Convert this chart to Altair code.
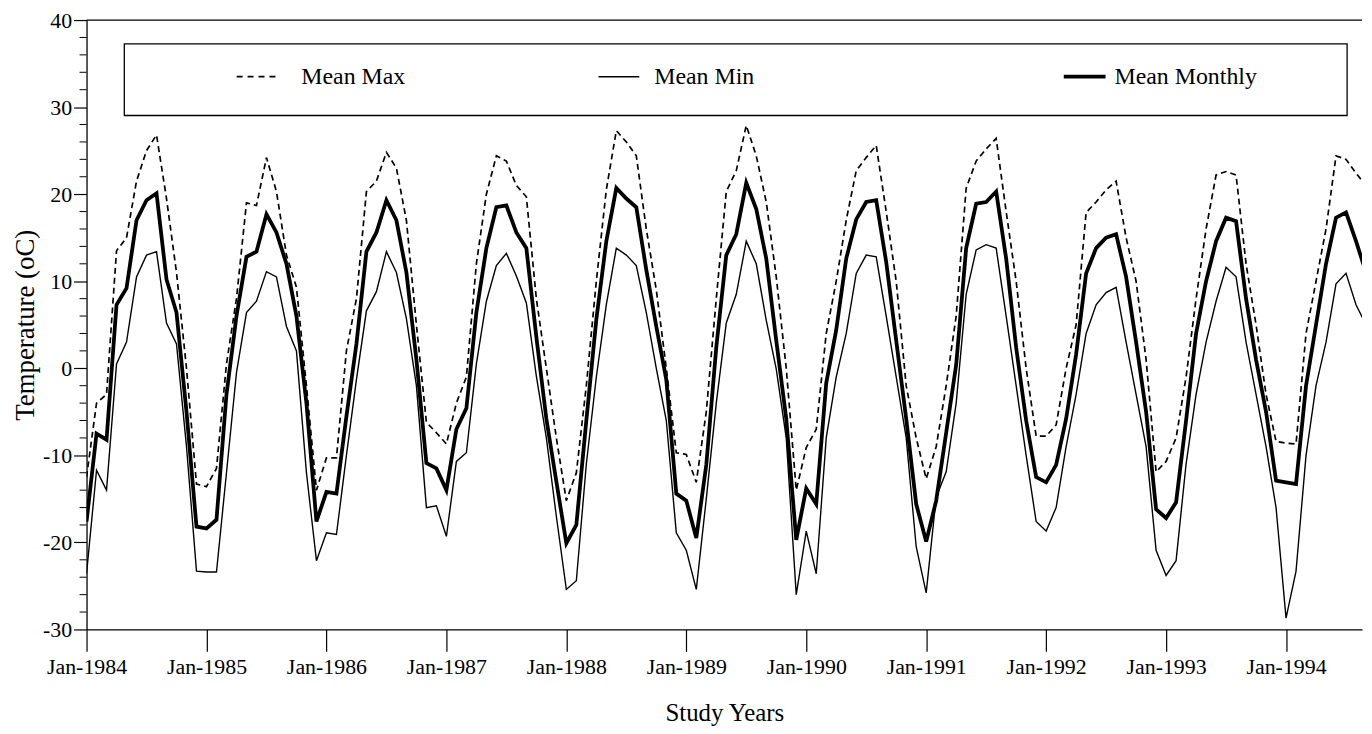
import altair as alt
import pandas as pd

# Monthly values, Jan-1984 .. Sep-1994 (index 0 = Jan-1984)
mean_max = [
    -12.5, -4.0, -3.0, 13.5, 15.0, 21.5, 25.0, 26.8, 19.5, 11.0, 0.0, -13.3,
    -13.6, -11.5, 0.5, 8.0, 19.0, 18.7, 24.2, 20.3, 13.0, 9.3, -2.0, -14.0,
    -10.3, -10.3, 2.0, 8.0, 20.3, 21.5, 24.8, 23.0, 17.0, 5.0, -6.2, -7.4,
    -8.7, -4.0, -1.0, 12.0, 20.0, 24.4, 23.8, 21.0, 19.7, 8.0, 0.0, -8.0,
    -15.2, -12.0, -2.0, 10.0, 20.5, 27.3, 26.0, 24.4, 16.0, 9.0, 0.0, -9.7,
    -9.9, -13.1, -5.0, 8.0, 20.3, 22.7, 27.9, 24.4, 19.1, 10.5, 0.0, -14.0,
    -9.1, -7.0, 4.0, 10.0, 17.0, 22.7, 24.2, 25.6, 18.0, 10.0, -2.0, -8.0,
    -12.7, -9.0, -2.0, 6.0, 20.7, 23.8, 25.2, 26.4, 18.0, 10.0, 0.0, -7.8,
    -7.8, -6.5, 0.0, 5.0, 17.9, 19.1, 20.5, 21.5, 15.0, 10.0, 1.0, -11.9,
    -10.7, -8.0, -1.0, 8.0, 16.0, 22.2, 22.6, 22.2, 12.0, 5.0, -3.0, -8.4,
    -8.6, -8.7, 4.0, 10.0, 16.0, 24.4, 24.0, 22.4, 21.0,
]
mean_min = [
    -23.6, -11.7, -14.0, 0.5, 3.0, 10.5, 13.0, 13.4, 5.2, 2.8, -9.0, -23.3,
    -23.4, -23.4, -12.0, -0.5, 6.4, 7.7, 11.1, 10.5, 4.8, 2.0, -12.0, -22.1,
    -18.9, -19.1, -10.0, -1.3, 6.6, 8.8, 13.4, 11.0, 5.7, -2.0, -16.0, -15.8,
    -19.3, -10.7, -9.7, 0.5, 7.7, 11.8, 13.2, 10.6, 7.5, -0.9, -8.0, -17.0,
    -25.4, -24.4, -11.0, -1.0, 7.3, 13.8, 13.0, 11.8, 6.4, 0.0, -6.0, -18.9,
    -20.9, -25.4, -15.0, -4.0, 5.2, 8.5, 14.6, 12.0, 5.5, -0.1, -8.0, -26.0,
    -18.7, -23.6, -8.0, -1.0, 4.0, 10.9, 13.0, 12.8, 6.0, -1.0, -8.0, -20.5,
    -25.8, -14.8, -11.9, -4.0, 8.5, 13.6, 14.2, 13.8, 6.0, -2.0, -10.0, -17.6,
    -18.7, -16.0, -9.0, -3.0, 4.0, 7.3, 8.7, 9.3, 3.0, -3.0, -9.0, -20.9,
    -23.8, -22.1, -11.0, -3.0, 3.0, 7.7, 11.6, 10.5, 3.0, -3.0, -9.0, -16.0,
    -28.7, -23.3, -10.0, -2.0, 3.0, 9.7, 10.9, 7.3, 5.0,
]
mean_monthly = [
    -17.6, -7.5, -8.2, 7.3, 9.2, 17.0, 19.3, 20.1, 10.2, 6.4, -5.0, -18.2,
    -18.4, -17.4, -3.0, 6.0, 12.8, 13.4, 17.7, 15.6, 12.0, 6.0, -4.0, -17.6,
    -14.2, -14.4, -5.5, 2.8, 13.4, 15.6, 19.3, 17.0, 11.0, 1.0, -10.9, -11.5,
    -14.0, -7.0, -4.6, 6.4, 13.8, 18.5, 18.7, 15.6, 13.8, 3.6, -5.8, -13.0,
    -20.1, -18.0, -6.0, 5.6, 14.6, 20.7, 19.5, 18.5, 11.3, 4.8, -1.3, -14.4,
    -15.2, -19.5, -11.1, 2.4, 13.0, 15.4, 21.3, 18.3, 12.6, 3.2, -5.8, -19.7,
    -13.8, -15.6, -1.7, 4.4, 12.6, 17.1, 19.1, 19.3, 12.2, 3.2, -5.8, -15.6,
    -19.9, -15.2, -7.4, 0.4, 13.8, 18.9, 19.1, 20.3, 12.6, 2.4, -6.0, -12.5,
    -13.1, -11.1, -5.8, 1.6, 10.9, 13.8, 15.0, 15.4, 10.5, 3.0, -5.0, -16.2,
    -17.2, -15.4, -6.0, 4.0, 10.0, 14.6, 17.3, 16.9, 8.0, 1.0, -5.0, -12.9,
    -13.1, -13.3, -2.0, 5.0, 12.0, 17.3, 17.9, 14.6, 11.0,
]
series_names = ["Mean Max", "Mean Min", "Mean Monthly"]
year_ticks = [0, 12, 24, 36, 48, 60, 72, 84, 96, 108, 120]
y_major = [-30, -20, -10, 0, 10, 20, 30, 40]
y_minor = [v for v in range(-28, 40, 2) if v % 10 != 0]

months = list(range(len(mean_monthly)))
df = pd.DataFrame({"month": months, "mx": mean_max, "mn": mean_min, "mm": mean_monthly})

W, H = 1283, 613
FONT = "Liberation Serif"

xscale = alt.Scale(domain=[0, 127.6], nice=False, zero=False)
yscale = alt.Scale(domain=[-30, 40], nice=False, zero=False)

x_axis = alt.Axis(values=year_ticks, labelExpr="'Jan-' + (1984 + datum.value / 12)",
                  title="Study Years", tickSize=22, labelPadding=5, titlePadding=24,
                  labelFontSize=22, titleFontSize=25, grid=False, labelOverlap=False,
                  labelFlush=False)
y_axis = alt.Axis(values=y_major, labelExpr="'' + datum.value", title="Temperature (oC)",
                  tickSize=13, labelPadding=2, titlePadding=3, labelFontSize=22,
                  titleFontSize=27, grid=False, labelFlush=False)

X = alt.X("month:Q", scale=xscale, axis=x_axis, title="Study Years")

def Y(field):
    return alt.Y(field, type="quantitative", scale=yscale, axis=y_axis, title="Temperature (oC)")

base = alt.Chart(df)
max_line = base.mark_line(color="black", strokeWidth=1.7, strokeDash=[6, 4], clip=True).encode(
    x=X, y=Y("mx"))
min_line = base.mark_line(color="black", strokeWidth=1.4, clip=True).encode(
    x=X, y=Y("mn"))
mean_line = base.mark_line(color="black", strokeWidth=3.8, clip=True).encode(
    x=X, y=Y("mm"))

minor = alt.Chart(pd.DataFrame({"v": y_minor})).mark_rule(color="black", strokeWidth=1).encode(
    y=Y("v"), x=alt.value(-7), x2=alt.value(0)
)

one = pd.DataFrame({"a": [0]})
top_line = alt.Chart(one).mark_rule(color="black", strokeWidth=1.2).encode(
    x=alt.value(0), x2=alt.value(W), y=alt.value(0)
)

legend_box = alt.Chart(one).mark_rect(fill="white", stroke="black", strokeWidth=1.3).encode(
    x=alt.value(38), x2=alt.value(1268), y=alt.value(24), y2=alt.value(96)
)
LY = 57
leg_max = alt.Chart(one).mark_rule(color="black", strokeWidth=1.7, strokeDash=[6, 5]).encode(
    x=alt.value(151), x2=alt.value(195), y=alt.value(LY))
leg_min = alt.Chart(one).mark_rule(color="black", strokeWidth=1.4).encode(
    x=alt.value(515), x2=alt.value(556), y=alt.value(LY))
leg_mean = alt.Chart(one).mark_rule(color="black", strokeWidth=3.8).encode(
    x=alt.value(983), x2=alt.value(1025), y=alt.value(LY))

def leg_text(name, xpos):
    return alt.Chart(one).mark_text(align="left", baseline="middle", font=FONT, fontSize=24,
                                    color="black").encode(
        x=alt.value(xpos), y=alt.value(LY), text=alt.value(name))

chart = alt.layer(
    max_line, min_line, mean_line, minor, top_line,
    legend_box, leg_max, leg_min, leg_mean,
    leg_text(series_names[0], 216), leg_text(series_names[1], 571), leg_text(series_names[2], 1034),
).properties(
    width=W, height=H,
    autosize=alt.AutoSizeParams(type="none"),
    padding={"left": 79, "top": 10, "right": 2, "bottom": 95},
    background="white",
).configure_view(stroke=None).configure_axis(
    labelFont=FONT, titleFont=FONT, labelColor="black", titleColor="black",
    titleFontWeight="normal", domainColor="black", tickColor="black",
    domainWidth=1.3, tickWidth=1.2,
).configure_text(font=FONT)

chart.save("out.html", embed_options={"renderer": "svg", "actions": False})
